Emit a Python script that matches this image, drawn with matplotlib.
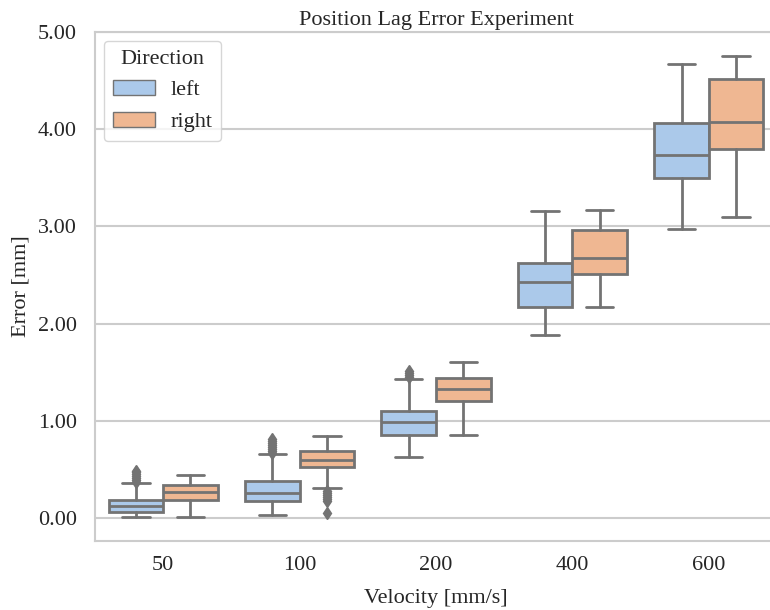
import numpy as np
import seaborn as sns
from matplotlib import pyplot as plt
from matplotlib.patches import Patch

# velocity categories and the two directions
velocities = ['50', '100', '200', '400', '600']
directions = ['left', 'right']

# box statistics (error in mm)
left_q1 = [0.065, 0.178, 0.86, 2.17, 3.50]
left_med = [0.126, 0.26, 0.99, 2.425, 3.74]
left_q3 = [0.19, 0.38, 1.10, 2.625, 4.067]
left_lo = [0.007, 0.03, 0.63, 1.88, 2.973]
left_hi = [0.357, 0.658, 1.43, 3.158, 4.673]
left_fliers = [[0.37, 0.39, 0.41, 0.43, 0.45, 0.47, 0.49],
               [0.67, 0.69, 0.71, 0.73, 0.75, 0.77, 0.79, 0.81],
               [1.45, 1.47, 1.49, 1.51],
               [],
               []]

right_q1 = [0.19, 0.527, 1.205, 2.511, 3.792]
right_med = [0.27, 0.60, 1.326, 2.675, 4.07]
right_q3 = [0.346, 0.69, 1.442, 2.967, 4.519]
right_lo = [0.007, 0.305, 0.86, 2.172, 3.097]
right_hi = [0.445, 0.843, 1.606, 3.165, 4.758]
right_fliers = [[],
                [0.28, 0.26, 0.24, 0.22, 0.20, 0.18, 0.05],
                [],
                [],
                []]

sns.set_theme(style='whitegrid')
plt.rcParams['font.family'] = ['Liberation Serif', 'DejaVu Serif']

colors = sns.color_palette('pastel', 2, desat=0.75)
gray = '#737373'

fig = plt.figure(figsize=(7.7, 6.1), dpi=100)
ax = fig.add_axes([95 / 770, 69 / 610, 682 / 770, 509 / 610])


def make_stats(q1, med, q3, lo, hi, fl):
    out = []
    for i in range(len(q1)):
        out.append({'q1': q1[i], 'med': med[i], 'q3': q3[i],
                    'whislo': lo[i], 'whishi': hi[i], 'fliers': fl[i]})
    return out


groups = [make_stats(left_q1, left_med, left_q3, left_lo, left_hi, left_fliers),
          make_stats(right_q1, right_med, right_q3, right_lo, right_hi, right_fliers)]

x = np.arange(len(velocities))
w = 0.4
for j, stats in enumerate(groups):
    pos = x - w / 2 + j * w
    ax.bxp(stats, positions=pos, widths=w, patch_artist=True,
           boxprops=dict(facecolor=colors[j], edgecolor=gray, linewidth=2),
           medianprops=dict(color=gray, linewidth=2),
           whiskerprops=dict(color=gray, linewidth=2),
           capprops=dict(color=gray, linewidth=2),
           flierprops=dict(marker='d', markerfacecolor=gray, markeredgecolor=gray,
                           markersize=6))

fs = 16
ax.set_xlim(-0.5, 4.5)
ax.set_ylim(-0.235, 5.0)
ax.set_xticks(x)
ax.set_xticklabels(velocities, fontsize=fs)
ax.set_yticks([0, 1, 2, 3, 4, 5])
ax.set_yticklabels(['%.2f' % v for v in [0, 1, 2, 3, 4, 5]], fontsize=fs)
ax.tick_params(axis='x', pad=5)
ax.tick_params(axis='y', pad=7)
ax.xaxis.grid(False)
ax.yaxis.grid(True, color='#cccccc', linewidth=1.5)
for s in ax.spines.values():
    s.set_color('#cccccc')
    s.set_linewidth(1.5)
ax.set_xlabel('Velocity [mm/s]', fontsize=fs, labelpad=10)
ax.set_ylabel('Error [mm]', fontsize=fs, labelpad=5)
ax.set_title('Position Lag Error Experiment', fontsize=fs, pad=5)

handles = [Patch(facecolor=colors[j], edgecolor=gray, label=directions[j]) for j in range(2)]
ax.legend(handles=handles, title='Direction', loc='upper left', fontsize=fs,
          title_fontsize=fs, frameon=True, handlelength=1.9, handletextpad=0.7,
          borderaxespad=0.4)

fig.savefig('out.png', dpi=100)
